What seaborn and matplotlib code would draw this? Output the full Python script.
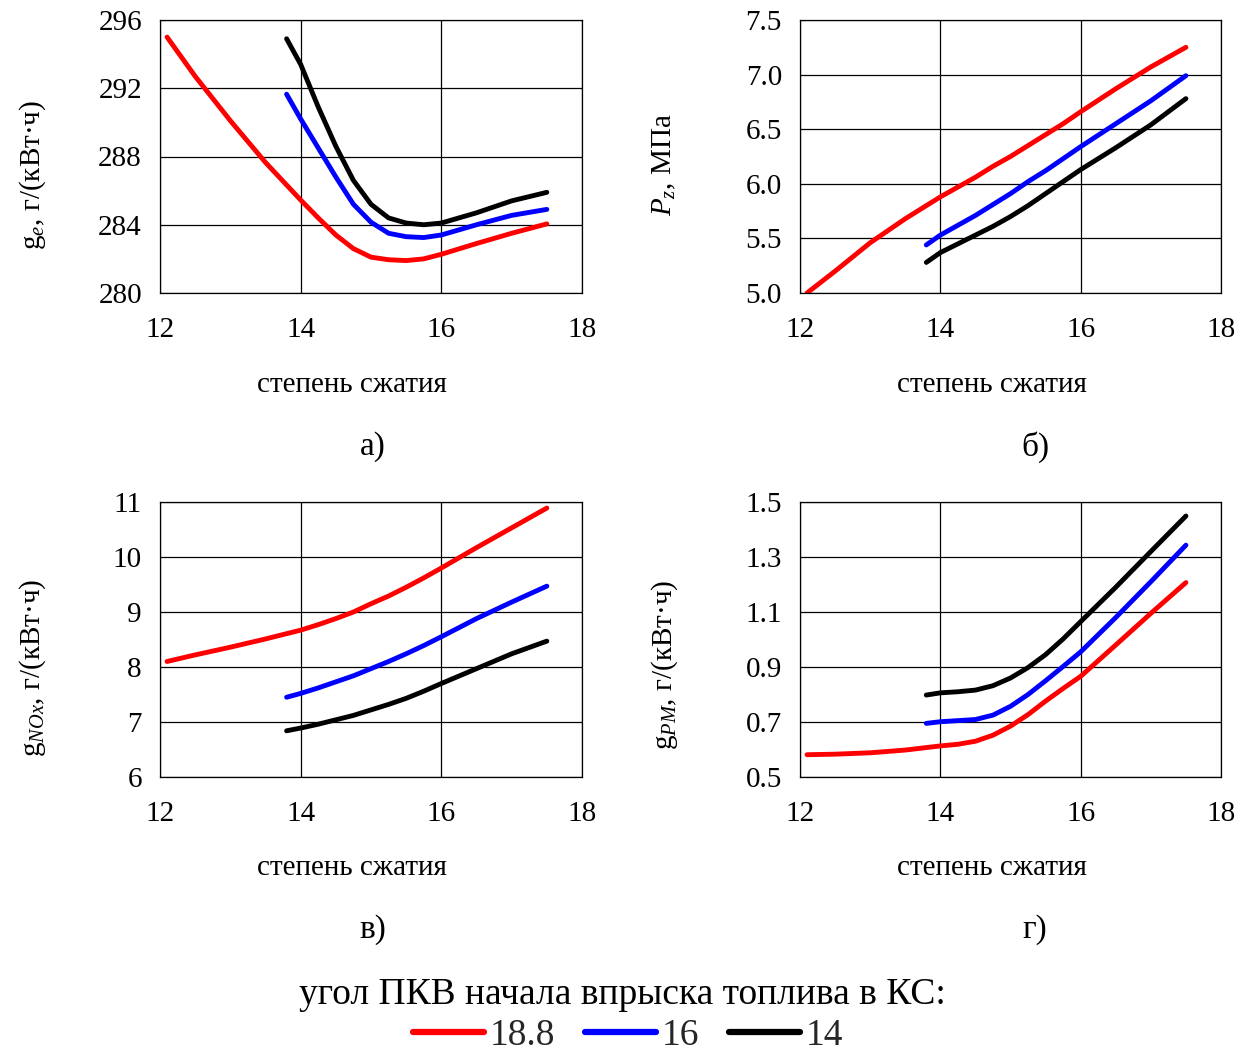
import numpy as np
import pandas as pd
import matplotlib
matplotlib.use("Agg")
import matplotlib.pyplot as plt
import seaborn as sns

# ---- data: compression ratio vs. engine indicators, for three injection timings ----
timings = ["18.8", "16", "14"]
colors = ["#ff0000", "#0000ff", "#000000"]

x_long = [12.1, 12.5, 13.0, 13.5, 14.0, 14.25, 14.5, 14.75, 15.0, 15.25, 15.5, 15.75, 16.0, 16.5, 17.0, 17.5]
x_short = [13.8, 14.0, 14.25, 14.5, 14.75, 15.0, 15.25, 15.5, 15.75, 16.0, 16.5, 17.0, 17.5]

# specific fuel consumption g_e, g/(kW*h)
ge_188 = [295.0, 292.7, 290.1, 287.65, 285.45, 284.4, 283.4, 282.6, 282.1, 281.95, 281.9, 282.0, 282.27, 282.9, 283.5, 284.05]
ge_16 = [291.65, 290.2, 288.5, 286.8, 285.2, 284.15, 283.5, 283.3, 283.25, 283.4, 284.0, 284.55, 284.9]
ge_14 = [294.9, 293.4, 290.9, 288.6, 286.6, 285.2, 284.4, 284.1, 284.0, 284.1, 284.7, 285.4, 285.9]

# maximum combustion pressure P_z, MPa
pz_188 = [5.0, 5.2, 5.46, 5.68, 5.88, 5.97, 6.06, 6.16, 6.25, 6.35, 6.45, 6.55, 6.66, 6.87, 7.07, 7.25]
pz_16 = [5.44, 5.53, 5.62, 5.71, 5.81, 5.91, 6.02, 6.12, 6.23, 6.34, 6.55, 6.76, 6.99]
pz_14 = [5.28, 5.37, 5.45, 5.53, 5.61, 5.70, 5.80, 5.91, 6.02, 6.13, 6.33, 6.54, 6.78]

# NOx emission, g/(kW*h)
nox_188 = [8.10, 8.22, 8.36, 8.51, 8.67, 8.77, 8.88, 9.00, 9.15, 9.29, 9.45, 9.62, 9.80, 10.17, 10.53, 10.89]
nox_16 = [7.45, 7.52, 7.62, 7.73, 7.84, 7.97, 8.10, 8.24, 8.39, 8.55, 8.88, 9.18, 9.47]
nox_14 = [6.84, 6.89, 6.96, 7.04, 7.12, 7.22, 7.32, 7.43, 7.56, 7.70, 7.97, 8.24, 8.47]

# particulate matter emission, g/(kW*h)
pm_188 = [0.581, 0.583, 0.588, 0.598, 0.613, 0.619, 0.630, 0.652, 0.685, 0.727, 0.776, 0.822, 0.866, 0.980, 1.095, 1.207]
pm_16 = [0.695, 0.701, 0.705, 0.709, 0.725, 0.757, 0.800, 0.850, 0.902, 0.955, 1.080, 1.210, 1.343]
pm_14 = [0.798, 0.806, 0.810, 0.816, 0.832, 0.860, 0.898, 0.945, 1.002, 1.065, 1.190, 1.320, 1.449]

panels = [
    ([ge_188, ge_16, ge_14], r"g$_{e}$, г/(кВт·ч)", [280, 284, 288, 292, 296], "{:.0f}", "а)"),
    ([pz_188, pz_16, pz_14], r"$P_{z}$, МПа", [5.0, 5.5, 6.0, 6.5, 7.0, 7.5], "{:.1f}", "б)"),
    ([nox_188, nox_16, nox_14], r"g$_{NOx}$, г/(кВт·ч)", [6, 7, 8, 9, 10, 11], "{:.0f}", "в)"),
    ([pm_188, pm_16, pm_14], r"g$_{PM}$, г/(кВт·ч)", [0.5, 0.7, 0.9, 1.1, 1.3, 1.5], "{:.1f}", "г)"),
]
x_ticks = [12, 14, 16, 18]
x_title = "степень сжатия"
legend_title = "угол ПКВ начала впрыска топлива в КС:"

sns.set_theme(style="white")
plt.rcParams["font.family"] = ["Liberation Serif", "DejaVu Serif"]
plt.rcParams["mathtext.fontset"] = "custom"
plt.rcParams["mathtext.rm"] = "Liberation Serif"
plt.rcParams["mathtext.it"] = "Liberation Serif:italic"

fig = plt.figure(figsize=(12.5, 10.54), dpi=100)
W, H = 1250, 1054


def fx(px):
    return px / W


def fy(py):
    return 1 - py / H


# axes boxes (left, top, right, bottom) in pixels, plus text anchors
boxes = [(160, 20, 582, 293), (800, 20, 1221, 293), (160, 502, 582, 777), (800, 502, 1221, 777)]
ylabel_pos = [(33, 175), (664, 165), (33, 668), (665, 665)]
xlabel_pos = [(352, 385), (992, 385), (352, 868), (992, 868)]
tag_pos = [(373, 447), (1035, 447), (373, 930), (1035, 930)]

for (series, ylab, yt, fmt, tag), (x0, y0, x1, y1), yl, xl, tp in zip(
        panels, boxes, ylabel_pos, xlabel_pos, tag_pos):
    ax = fig.add_axes([fx(x0), fy(y1), (x1 - x0) / W, (y1 - y0) / H])
    frames = []
    for t, vals in zip(timings, series):
        xs = x_long if len(vals) == len(x_long) else x_short
        frames.append(pd.DataFrame({"x": xs, "y": vals, "timing": t}))
    df = pd.concat(frames, ignore_index=True)
    sns.lineplot(data=df, x="x", y="y", hue="timing", hue_order=timings,
                 palette=colors, linewidth=3.5, ax=ax, legend=False,
                 sort=False, estimator=None, solid_joinstyle="round",
                 solid_capstyle="round")
    ax.set_xlim(12, 18)
    ax.set_ylim(yt[0], yt[-1])
    ax.set_xticks(x_ticks)
    ax.set_xticklabels([str(v) for v in x_ticks])
    ax.set_yticks(yt)
    ax.set_yticklabels([fmt.format(v) for v in yt])
    ax.grid(True, color="black", linewidth=0.9)
    for s in ax.spines.values():
        s.set_color("black")
        s.set_linewidth(0.9)
    ax.tick_params(axis="both", direction="out", length=7, width=0.9, color="black",
                   labelsize=21, labelcolor="black", pad=6)
    ax.tick_params(axis="x", pad=10)
    ax.set_xlabel("")
    ax.set_ylabel("")
    fig.text(fx(yl[0]), fy(yl[1]), ylab, rotation=90, ha="center", va="center",
             fontsize=21, color="black")
    fig.text(fx(xl[0]), fy(xl[1]), x_title, ha="center", va="center",
             fontsize=21, color="black")
    fig.text(fx(tp[0]), fy(tp[1]), tag, ha="center", va="center",
             fontsize=24, color="black")

# shared legend for the injection timings
fig.text(fx(622), fy(995), legend_title, ha="center", va="center", fontsize=27, color="black")
handles = [plt.Line2D([0], [0], color=c, linewidth=4.5, solid_capstyle="round") for c in colors]
fig.legend(handles, timings, loc="center", bbox_to_anchor=(fx(628), fy(1036)),
           ncol=3, frameon=False, fontsize=27, handlelength=1.9, handletextpad=0.15,
           columnspacing=0.8, borderpad=0.0, borderaxespad=0.0)

fig.savefig("out.png", dpi=100, facecolor="white")
